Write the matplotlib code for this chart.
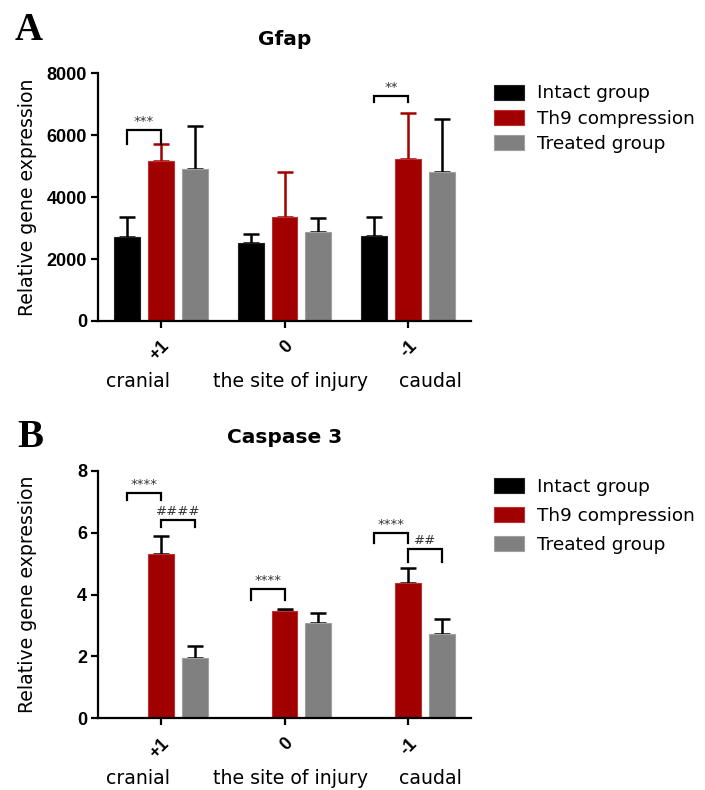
import numpy as np
import matplotlib
matplotlib.use("Agg")
import matplotlib.pyplot as plt

# ---------------- data ----------------
levels = ["+1", "0", "-1"]
regions = ["cranial", "the site of injury", "caudal"]
groups = ["Intact group", "Th9 compression", "Treated group"]

gfap_intact = [2720, 2530, 2750]
gfap_intact_err = [645, 270, 610]
gfap_th9 = [5160, 3365, 5215]
gfap_th9_err = [540, 1450, 1485]
gfap_treated = [4900, 2880, 4800]
gfap_treated_err = [1400, 430, 1720]

casp_intact = [0.0, 0.0, 0.0]
casp_intact_err = [0.0, 0.0, 0.0]
casp_th9 = [5.30, 3.47, 4.38]
casp_th9_err = [0.59, 0.05, 0.47]
casp_treated = [1.94, 3.07, 2.72]
casp_treated_err = [0.41, 0.32, 0.49]

# significance annotations: (group index, bar from, bar to, y bracket, leg drop, label)
gfap_sig = [(0, 0, 1, 6160, 440, "***"), (2, 0, 1, 7260, 185, "**")]
casp_sig = [(0, 0, 1, 7.29, 0.24, "****"), (0, 1, 2, 6.41, 0.23, "####"),
            (1, 0, 1, 4.18, 0.35, "****"),
            (2, 0, 1, 6.00, 0.33, "****"), (2, 1, 2, 5.46, 0.40, "##")]

BLACK = "#000000"
RED = "#A00000"
GREY = "#808080"
colors = [BLACK, RED, GREY]
edges = ["#202020", "#C03030", "#A0A0A0"]

W, H = 705, 790
fig = plt.figure(figsize=(W / 100, H / 100), dpi=100)

def px_axes(left, top, right, bottom):
    return fig.add_axes([left / W, 1 - bottom / H, (right - left) / W, (bottom - top) / H])

axA = px_axes(98, 73, 471, 321)
axB = px_axes(98, 470.7, 471, 718.3)

tickfont = dict(family="Liberation Sans", weight="bold", size=13)
offset = 0.274
width = 0.21

def draw_panel(ax, title, series, errs, err_colors, ymax, ystep, sigs, legend_top, legend_spacing):
    x = np.arange(len(levels))
    for i, (vals, err, col, ecol, edg) in enumerate(zip(series, errs, colors, err_colors, edges)):
        xs = x + (i - 1) * offset
        vals = np.asarray(vals, float)
        err = np.asarray(err, float)
        ax.bar(xs, vals, width=width, color=col, edgecolor=edg, linewidth=0.8,
               label=groups[i], zorder=2)
        m = vals > 0
        if m.any():
            ax.errorbar(xs[m], vals[m], yerr=[np.zeros(m.sum()), err[m]], fmt="none",
                        ecolor=ecol, elinewidth=1.8, capsize=5.5, capthick=1.8, zorder=1)
    for g, a, b, yb, drop, lab in sigs:
        x0 = g + (a - 1) * offset
        x1 = g + (b - 1) * offset
        ax.plot([x0, x0, x1, x1], [yb - drop, yb, yb, yb - drop], color="black",
                lw=1.6, solid_joinstyle="miter", clip_on=False, zorder=3)
        ax.text((x0 + x1) / 2, yb + ymax * 0.008, lab, ha="center", va="bottom",
                fontsize=9.5, color="#333333", family="DejaVu Sans")
    ax.set_xlim(-0.51, 2.51)
    ax.set_ylim(0, ymax)
    ax.set_yticks(np.arange(0, ymax + ystep / 2, ystep))
    ax.set_xticks(x)
    ax.set_xticklabels(levels, rotation=45, ha="right", va="top", rotation_mode="anchor",
                       fontdict=tickfont)
    for lab in ax.get_yticklabels():
        lab.set_fontproperties(matplotlib.font_manager.FontProperties(**tickfont))
    ax.spines["top"].set_visible(False)
    ax.spines["right"].set_visible(False)
    ax.spines["left"].set_linewidth(1.6)
    ax.spines["bottom"].set_linewidth(1.6)
    ax.tick_params(axis="both", direction="out", length=5, width=1.6, pad=3)
    ax.tick_params(axis="x", pad=7)
    ax.set_ylabel("Relative gene expression", fontsize=13.6, family="DejaVu Sans")
    ax.yaxis.set_label_coords(-0.164, 0.5)
    ax.set_title(title, fontsize=14.5, fontweight="bold", family="DejaVu Sans", pad=20)
    for xr, txt in zip([0.107, 0.515, 0.89], regions):
        ax.text(xr, -0.242, txt, transform=ax.transAxes, ha="center", va="center",
                fontsize=13.6, family="DejaVu Sans")
    ax.legend(loc="upper left", bbox_to_anchor=(494 / W, 1 - legend_top / H),
              bbox_transform=fig.transFigure, frameon=False,
              prop=dict(family="DejaVu Sans", size=13.3),
              handlelength=1.6, handleheight=0.86, handletextpad=0.75,
              labelspacing=legend_spacing, borderpad=0, borderaxespad=0)

draw_panel(axA, "Gfap",
           [gfap_intact, gfap_th9, gfap_treated],
           [gfap_intact_err, gfap_th9_err, gfap_treated_err],
           [BLACK, RED, BLACK], 8000, 2000, gfap_sig, 84.5, 0.4)
draw_panel(axB, "Caspase 3",
           [casp_intact, casp_th9, casp_treated],
           [casp_intact_err, casp_th9_err, casp_treated_err],
           [BLACK, BLACK, BLACK], 8, 2, casp_sig, 477.5, 0.6)

fig.text(15 / W, 1 - 40 / H, "A", family="Liberation Serif", weight="bold", fontsize=28,
         ha="left", va="baseline")
fig.text(17 / W, 1 - 447 / H, "B", family="Liberation Serif", weight="bold", fontsize=28,
         ha="left", va="baseline")

fig.savefig("out.png", dpi=100)
